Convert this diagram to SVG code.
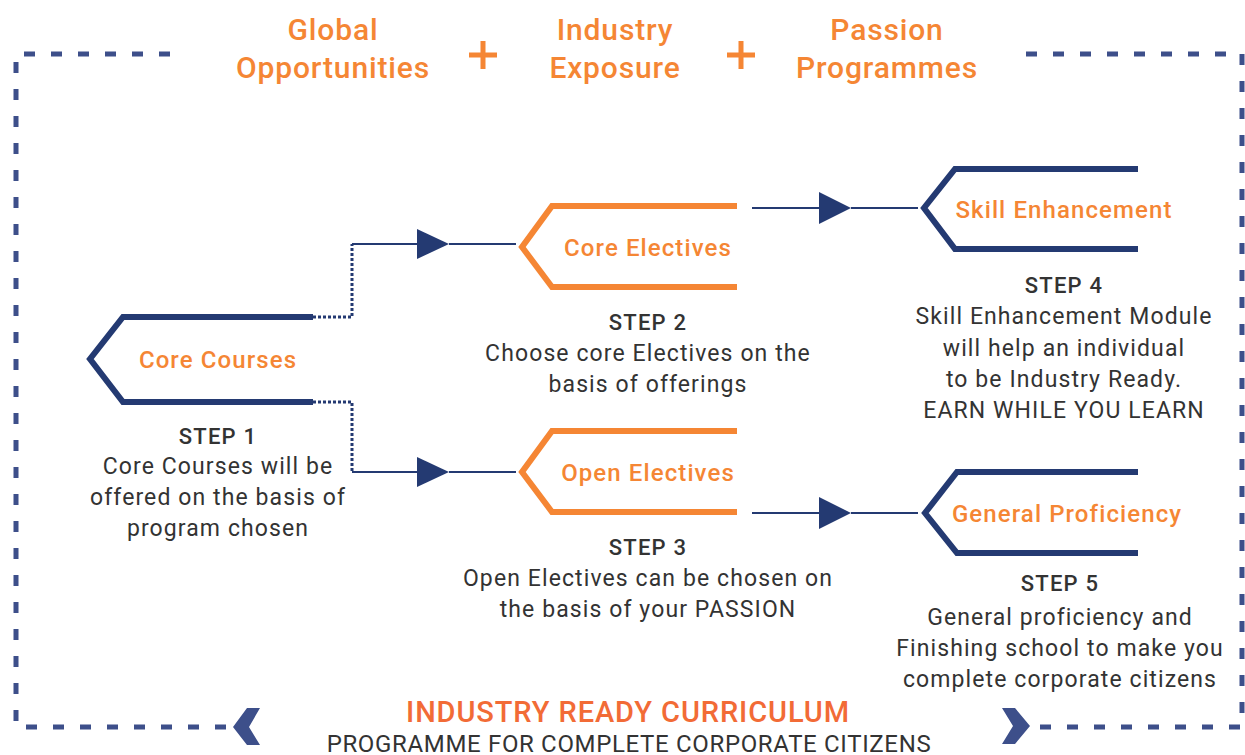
<svg xmlns="http://www.w3.org/2000/svg" width="1245" height="755" viewBox="0 0 1245 755">
<style>
.frame{fill:none;stroke:#3D4F8A;stroke-width:5;stroke-dasharray:11 16}
.navy{fill:none;stroke:#243A72;stroke-width:6}
.orng{fill:none;stroke:#F58634;stroke-width:6}
.link{fill:none;stroke:#243A72;stroke-width:2.2}
.dot{fill:none;stroke:#243A72;stroke-width:3;stroke-dasharray:3 2}
.head{font-family:Roboto,"Liberation Sans",sans-serif;font-weight:500;font-size:30px;fill:#F58634;text-anchor:middle;letter-spacing:0.85px}
.lbl{font-family:Roboto,"Liberation Sans",sans-serif;font-weight:500;font-size:24px;fill:#F58634;text-anchor:middle;letter-spacing:1.1px}
.step{font-family:Roboto,"Liberation Sans",sans-serif;font-weight:500;font-size:22px;fill:#333333;text-anchor:middle;letter-spacing:1.2px}
.body{font-family:Roboto,"Liberation Sans",sans-serif;font-weight:400;font-size:23px;fill:#333333;text-anchor:middle;letter-spacing:1.1px}
.plus{fill:none;stroke:#F58634;stroke-width:5}
</style>

<g id="frame">
<path class="frame" d="M170,54 H16 V727 H232"/>
<path class="frame" d="M1026,54 H1242 V727 H1032"/>
<path d="M247,708 H260 L249,727 L260,745 H247 L233,727 Z" fill="#3D4F8A"/>
<path d="M1002,708 H1015 L1030,726 L1015,744 H1002 L1013,726 Z" fill="#3D4F8A"/>
</g>

<g id="header">
<text class="head" x="333" y="40">Global</text>
<text class="head" x="333" y="78">Opportunities</text>
<path class="plus" d="M469,55 H497 M483,41 V69"/>
<text class="head" x="615" y="40">Industry</text>
<text class="head" x="615" y="78">Exposure</text>
<path class="plus" d="M727,55 H755 M741,41 V69"/>
<text class="head" x="887" y="40">Passion</text>
<text class="head" x="887" y="78">Programmes</text>
</g>

<g id="connectors">
<path class="dot" d="M313,317 H352 V244"/>
<path class="dot" d="M313,402 H352 V472"/>
<path class="link" d="M352,244 H417"/><path d="M417,229 L449,244 L417,259 Z" fill="#243A72"/><path class="link" d="M449,244 H516"/>
<path class="link" d="M352,472 H417"/><path d="M417,457 L449,472 L417,487 Z" fill="#243A72"/><path class="link" d="M449,472 H516"/>
<path class="link" d="M752,208 H819"/><path d="M819,192 L851,208 L819,224 Z" fill="#243A72"/><path class="link" d="M851,208 H918"/>
<path class="link" d="M752,513 H819"/><path d="M819,497 L851,513 L819,529 Z" fill="#243A72"/><path class="link" d="M851,513 H918"/>
</g>

<g id="step1">
<path class="navy" d="M313,317 H123 L90,359 L123,402 H313"/>
<text class="lbl" x="218" y="368">Core Courses</text>
<text class="step" x="218" y="444">STEP 1</text>
<text class="body" x="218" y="474">Core Courses will be</text>
<text class="body" x="218" y="505">offered on the basis of</text>
<text class="body" x="218" y="536">program chosen</text>
</g>

<g id="step2">
<path class="orng" d="M737,206 H552 L522,247 L552,287 H737"/>
<text class="lbl" x="648" y="256">Core Electives</text>
<text class="step" x="648" y="330">STEP 2</text>
<text class="body" x="648" y="361">Choose core Electives on the</text>
<text class="body" x="648" y="392">basis of offerings</text>
</g>

<g id="step3">
<path class="orng" d="M737,431 H552 L522,472 L552,512 H737"/>
<text class="lbl" x="648" y="481">Open Electives</text>
<text class="step" x="648" y="555">STEP 3</text>
<text class="body" x="648" y="586">Open Electives can be chosen on</text>
<text class="body" x="648" y="617">the basis of your PASSION</text>
</g>

<g id="step4">
<path class="navy" d="M1138,169 H955 L924,208 L955,249 H1138"/>
<text class="lbl" x="1064" y="218">Skill Enhancement</text>
<text class="step" x="1064" y="293">STEP 4</text>
<text class="body" x="1064" y="324">Skill Enhancement Module</text>
<text class="body" x="1064" y="356">will help an individual</text>
<text class="body" x="1064" y="387">to be Industry Ready.</text>
<text class="body" x="1064" y="418">EARN WHILE YOU LEARN</text>
</g>

<g id="step5">
<path class="navy" d="M1138,472 H957 L925,513 L957,553 H1138"/>
<text class="lbl" x="1067" y="522">General Proficiency</text>
<text class="step" x="1060" y="591">STEP 5</text>
<text class="body" x="1060" y="625">General proficiency and</text>
<text class="body" x="1060" y="656">Finishing school to make you</text>
<text class="body" x="1060" y="687">complete corporate citizens</text>
</g>

<g id="footer">
<text x="628" y="722" font-family="Roboto,'Liberation Sans',sans-serif" font-weight="500" font-size="29" letter-spacing="0.9" fill="#F26B36" text-anchor="middle">INDUSTRY READY CURRICULUM</text>
<text x="629" y="752" font-family="Roboto,'Liberation Sans',sans-serif" font-weight="400" font-size="24" letter-spacing="0.66" fill="#333333" text-anchor="middle">PROGRAMME FOR COMPLETE CORPORATE CITIZENS</text>
</g>
</svg>
